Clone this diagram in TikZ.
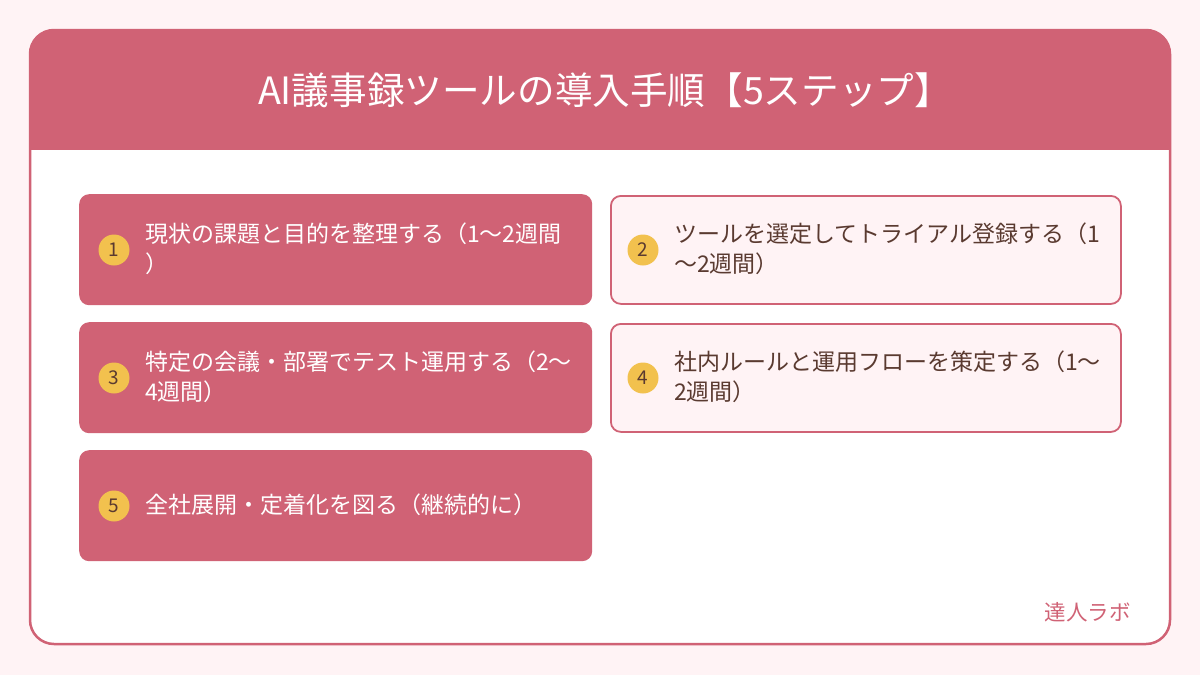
\documentclass[tikz,border=0pt]{standalone}
\usepackage{fontspec}
\setmainfont{Noto Sans CJK JP}
\definecolor{rose}{HTML}{D06275}
\definecolor{blush}{HTML}{FFF3F5}
\definecolor{honey}{HTML}{F2C14E}
\definecolor{cocoa}{HTML}{5A3A30}

\begin{document}
\begin{tikzpicture}[x=1pt, y=-1pt, every node/.append style={inner sep=0pt},
    solidcard/.style={fill=rose, rounded corners=10pt, minimum width=513pt, minimum height=111pt, anchor=north west},
    linecard/.style={fill=blush, draw=rose, line width=1.8pt, rounded corners=10pt, minimum width=510pt, minimum height=108pt, anchor=north west},
    badge/.style={circle, fill=honey, minimum size=31pt, text=cocoa, font=\fontsize{19}{19}\selectfont},
    steptext/.style={anchor=west, align=left, font=\fontsize{23}{30}\selectfont}]
    \fill[blush] (0,0) rectangle (1200,675);
    \useasboundingbox (0,0) rectangle (1200,675);

    % frame and header band
    \begin{scope}
        \clip[rounded corners=24pt] (30,30) rectangle (1170,644);
        \fill[white] (30,30) rectangle (1170,644);
        \fill[rose] (30,30) rectangle (1170,150);
    \end{scope}
    \draw[rose, line width=2.5pt, rounded corners=24pt] (30,30) rectangle (1170,644);
    \node[text=white, font=\fontsize{37.6}{37.6}\selectfont] (title) at (605,90) {AI議事録ツールの導入手順【5ステップ】};

    \node[solidcard] (s1) at (79,194) {};
    \node[badge] (b1) at (114,250) {1};
    \node[steptext, text=white] (t1) at (145,249) {現状の課題と目的を整理する（1〜2週間\\）};

    \node[linecard] (s2) at (610,195) {};
    \node[badge] (b2) at (643,250) {2};
    \node[steptext, text=cocoa] (t2) at (674,249) {ツールを選定してトライアル登録する（1\\〜2週間）};

    \node[solidcard] (s3) at (79,322) {};
    \node[badge] (b3) at (114,378) {3};
    \node[steptext, text=white] (t3) at (145,377) {特定の会議・部署でテスト運用する（2〜\\4週間）};

    \node[linecard] (s4) at (610,323) {};
    \node[badge] (b4) at (643,378) {4};
    \node[steptext, text=cocoa] (t4) at (674,377) {社内ルールと運用フローを策定する（1〜\\2週間）};

    \node[solidcard] (s5) at (79,450) {};
    \node[badge] (b5) at (114,506) {5};
    \node[steptext, text=white] (t5) at (145,505) {全社展開・定着化を図る（継続的に）};

    \node[anchor=east, text=rose, font=\fontsize{21.5}{21.5}\selectfont] (brand) at (1131,612) {達人ラボ};
\end{tikzpicture}
\end{document}
